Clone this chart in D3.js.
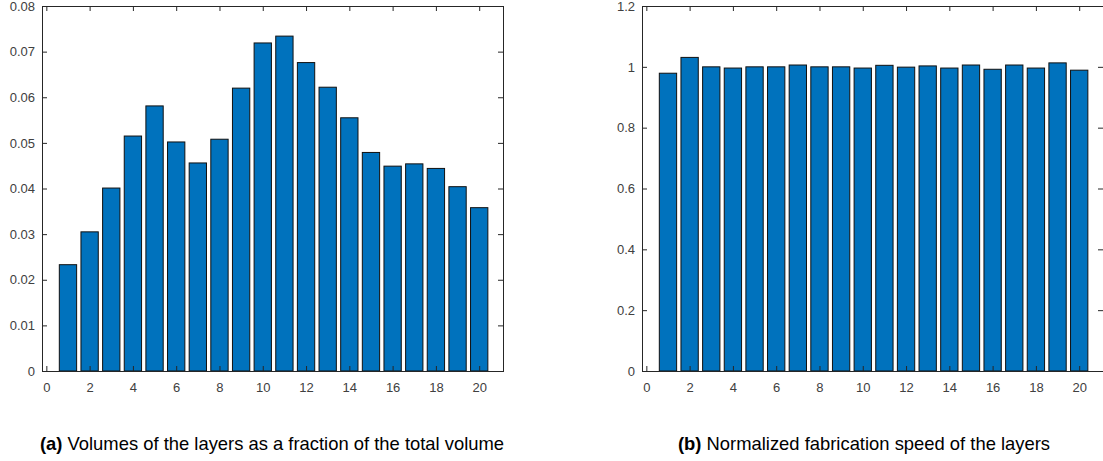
<!DOCTYPE html>
<html>
<head>
<meta charset="utf-8">
<script src="https://cdn.jsdelivr.net/npm/d3@7"></script>
<style>
  body { margin: 0; background: #fff; }
  svg { display: block; font-family: "Liberation Sans", Arial, sans-serif; }
</style>
</head>
<body>
<svg width="1103" height="461"></svg>
<script>
// layer index 1..20
const layers = d3.range(1, 21);
// (a) fraction of total volume per layer
const volumeFraction = [0.0233, 0.0305, 0.0401, 0.0515, 0.0581, 0.0502, 0.0456, 0.0508, 0.0620, 0.0719,
                        0.0734, 0.0676, 0.0622, 0.0555, 0.0479, 0.0449, 0.0454, 0.0444, 0.0404, 0.0358];
// (b) normalized fabrication speed per layer
const fabSpeed = [0.979, 1.031, 1.000, 0.996, 1.000, 1.000, 1.006, 1.000, 1.000, 0.996,
                  1.005, 0.999, 1.003, 0.996, 1.006, 0.992, 1.006, 0.996, 1.013, 0.989];
const xTicks = [0, 2, 4, 6, 8, 10, 12, 14, 16, 18, 20];
const yTicksA = [0, 0.01, 0.02, 0.03, 0.04, 0.05, 0.06, 0.07, 0.08];
const yTicksB = [0, 0.2, 0.4, 0.6, 0.8, 1, 1.2];

const svg = d3.select("svg");
const axisColor = "#262626";

function drawPanel(left, values, yMax, yTicks, caption, tag, capX) {
  const top = 6, bottom = 371, w = 461;
  const x = d3.scaleLinear().domain([-0.2, 21.1]).range([left, left + w]);
  const y = d3.scaleLinear().domain([0, yMax]).range([bottom, top]);
  const g = svg.append("g");

  // bars
  g.selectAll("rect.bar")
    .data(layers)
    .enter().append("rect")
    .attr("class", "bar")
    .attr("x", d => x(d - 0.4))
    .attr("width", x(0.8) - x(0))
    .attr("y", (d, i) => y(values[i]))
    .attr("height", (d, i) => y(0) - y(values[i]))
    .style("fill", "#0072BD")
    .style("stroke", "#111")
    .style("stroke-width", 1);

  const tickLen = 5;
  // bottom + top axis (ticks inward)
  g.append("g").attr("transform", `translate(0,${bottom})`)
    .call(d3.axisBottom(x).tickValues(xTicks).tickSize(-tickLen).tickPadding(12).tickFormat(d3.format("d")));
  g.append("g").attr("transform", `translate(0,${top})`)
    .call(d3.axisTop(x).tickValues(xTicks).tickSize(-tickLen).tickFormat(""));
  // left + right axis
  g.append("g").attr("transform", `translate(${left},0)`)
    .call(d3.axisLeft(y).tickValues(yTicks).tickSize(-tickLen).tickPadding(7).tickFormat(d => String(+d.toFixed(2))));
  g.append("g").attr("transform", `translate(${left + w},0)`)
    .call(d3.axisRight(y).tickValues(yTicks).tickSize(-tickLen).tickFormat(""));

  g.selectAll(".tick line").attr("stroke", axisColor);
  g.selectAll(".tick text").attr("fill", "#404040").style("font-size", "13px");

  // clean box instead of domain paths
  g.selectAll(".domain").remove();
  g.append("rect")
    .attr("x", left + 0.5).attr("y", top + 0.5)
    .attr("width", w).attr("height", bottom - top)
    .style("fill", "none").style("stroke", axisColor).style("stroke-width", 1);

  const t = svg.append("text")
    .attr("x", capX).attr("y", 450)
    .attr("text-anchor", "middle")
    .style("font-size", "18.4px")
    .attr("fill", "#000");
  t.append("tspan").style("font-weight", "bold").text(tag);
  t.append("tspan").text(" " + caption);
}

drawPanel(42, volumeFraction, 0.08, yTicksA,
  "Volumes of the layers as a fraction of the total volume", "(a)", 272);
drawPanel(642, fabSpeed, 1.2, yTicksB,
  "Normalized fabrication speed of the layers", "(b)", 864);
</script>
</body>
</html>
